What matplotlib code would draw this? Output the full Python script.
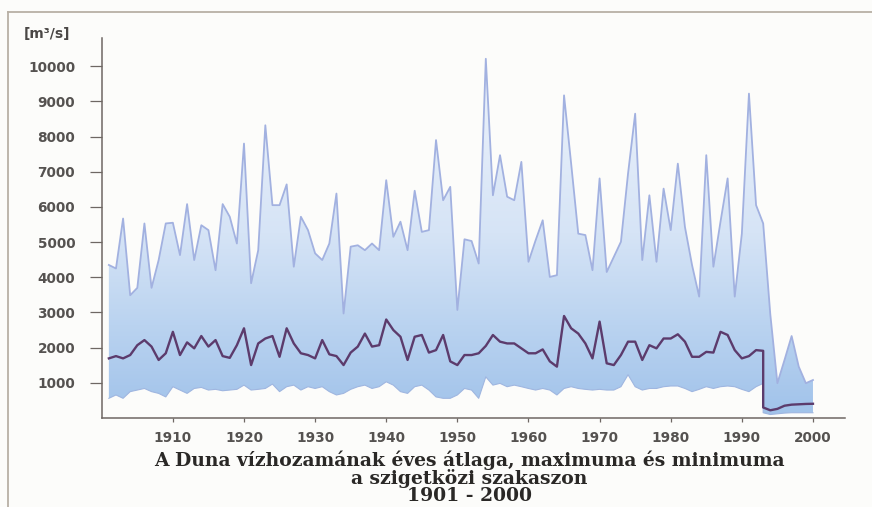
import numpy as np
import matplotlib
matplotlib.use("Agg")
import matplotlib.pyplot as plt
from matplotlib.colors import LinearSegmentedColormap
from matplotlib.lines import Line2D

# Duna, szigetközi szakasz - éves max / átlag / min vízhozam [m3/s]
years_pre = list(range(1901, 1994))
max_pre = [4350, 4250, 5670, 3490, 3700, 5530, 3700, 4490, 5530, 5550,
           4630, 6080, 4490, 5480, 5340, 4200, 6080, 5720, 4960, 7800,
           3830, 4770, 8320, 6050, 6050, 6640, 4300, 5720, 5340, 4680,
           4490, 4960, 6380, 2970, 4870, 4910, 4770, 4960, 4770, 6760,
           5150, 5580, 4770, 6460, 5290, 5340, 7900, 6190, 6570, 3070,
           5080, 5030, 4390, 10210, 6330, 7470, 6290, 6190, 7280, 4440,
           5050, 5620, 4010, 4060, 9170, 7230, 5240, 5200, 4200, 6810,
           4150, 4580, 5010, 6950, 8650, 4490, 6330, 4440, 6520, 5340,
           7230, 5430, 4345, 3450, 7470, 4300, 5580, 6810, 3450, 5240,
           9220, 6050, 5530]
mean_pre = [1695, 1760, 1695, 1790, 2070, 2215, 2030, 1650, 1840, 2450,
            1790, 2150, 1980, 2330, 2030, 2215, 1760, 1710, 2070, 2550,
            1505, 2120, 2260, 2330, 1740, 2550, 2120, 1840, 1790, 1695,
            2215, 1810, 1760, 1505, 1860, 2030, 2400, 2030, 2070, 2800,
            2500, 2310, 1650, 2310, 2360, 1860, 1930, 2360, 1610, 1505,
            1790, 1790, 1840, 2050, 2360, 2170, 2120, 2120, 1980, 1840,
            1840, 1950, 1610, 1460, 2900, 2550, 2400, 2120, 1695, 2740,
            1555, 1505, 1790, 2170, 2170, 1650, 2070, 1980, 2260, 2260,
            2380, 2170, 1740, 1740, 1880, 1860, 2450, 2360, 1930, 1695,
            1760, 1930, 1910]
min_pre = [560, 655, 560, 750, 795, 840, 750, 700, 600, 890,
           795, 700, 840, 870, 795, 815, 775, 795, 815, 935,
           795, 815, 840, 965, 750, 890, 935, 795, 890, 840,
           890, 750, 655, 700, 815, 890, 935, 840, 890, 1030,
           935, 750, 700, 890, 935, 795, 600, 560, 560, 655,
           840, 795, 560, 1170, 935, 985, 890, 935, 890, 840,
           795, 840, 795, 655, 840, 890, 840, 815, 795, 815,
           795, 795, 890, 1230, 890, 795, 840, 840, 890, 910,
           910, 840, 750, 815, 890, 840, 890, 910, 890, 815,
           750, 890, 985]

# 1993 után (elterelés)
years_post = list(range(1993, 2001))
max_post = [5530, 2950, 990, 1650, 2330, 1460, 990, 1080]
mean_post = [300, 220, 260, 350, 380, 390, 400, 405]
min_post = [150, 100, 120, 140, 150, 150, 150, 150]

ytick_vals = list(range(1000, 11000, 1000))
xtick_vals = list(range(1910, 2010, 10))
title_lines = ["A Duna vízhozamának éves átlaga, maximuma és minimuma",
               "a szigetközi szakaszon",
               "1901 - 2000"]

years = np.array(years_pre + years_post, dtype=float)
vmax = np.array(max_pre + max_post, dtype=float)
vmean = np.array(mean_pre + mean_post, dtype=float)
vmin = np.array(min_pre + min_post, dtype=float)

fig = plt.figure(figsize=(8.72, 5.07), dpi=100, facecolor="#fcfcfa")
ax = fig.add_axes([0.1175, 0.1755, 0.8515, 0.7495])
ax.set_facecolor("none")

# kitöltés min-max között, függőleges színátmenettel
band = ax.fill_between(years, vmin, vmax, facecolor="none", edgecolor="none")
cmap = LinearSegmentedColormap.from_list(
    "duna", [(0.0, "#a0c2ea"), (0.25, "#bad3f0"), (0.5, "#d6e4f6"), (1.0, "#eff4fc")])
grad = np.linspace(0, 1, 256).reshape(-1, 1)
img = ax.imshow(grad, cmap=cmap, origin="lower", aspect="auto",
                extent=[1900, 2005, 0, 10500], zorder=1)
img.set_clip_path(band.get_paths()[0], transform=ax.transData)

ax.plot(years, vmin, color="#9fb6e0", lw=0.8, zorder=2)
ax.plot(years, vmax, color="#a2b1e0", lw=1.3, zorder=3)
ax.plot(years, vmean, color="#5c3b6c", lw=1.7, zorder=4)

ax.set_xlim(1900.1, 2004.5)
ax.set_ylim(0, 10800)
ax.set_yticks(ytick_vals)
ax.set_xticks(xtick_vals)

for s in ["top", "right"]:
    ax.spines[s].set_visible(False)
for s in ["left", "bottom"]:
    ax.spines[s].set_color("#6e6763")
    ax.spines[s].set_linewidth(1.1)

ax.tick_params(axis="y", direction="out", length=8.6, width=0.9,
               color="#6e6763", pad=11, labelsize=9.8, labelcolor="#555250")
ax.tick_params(axis="x", direction="out", length=3, width=0.9,
               color="#6e6763", pad=6, labelsize=9.8, labelcolor="#555250")
for lab in ax.get_xticklabels() + ax.get_yticklabels():
    lab.set_fontweight("bold")

fig.text(0.0275, 0.932, "[m³/s]", fontsize=10, fontweight="bold",
         color="#4a4745", ha="left", va="center")

# cím
title_y = [0.093, 0.057, 0.021]
for line, yy in zip(title_lines, title_y):
    fig.text(0.538, yy, line, ha="center", va="center", fontsize=13.5,
             fontweight="bold", family="DejaVu Serif", color="#2a2826")

# keret a kép bal és felső szélén
fig.add_artist(Line2D([0.009, 1.0], [0.977, 0.977], transform=fig.transFigure,
                      color="#b8b0a5", lw=1.3))
fig.add_artist(Line2D([0.009, 0.009], [0.0, 0.977], transform=fig.transFigure,
                      color="#b8b0a5", lw=1.3))

fig.savefig("out.png", dpi=100, facecolor=fig.get_facecolor())
